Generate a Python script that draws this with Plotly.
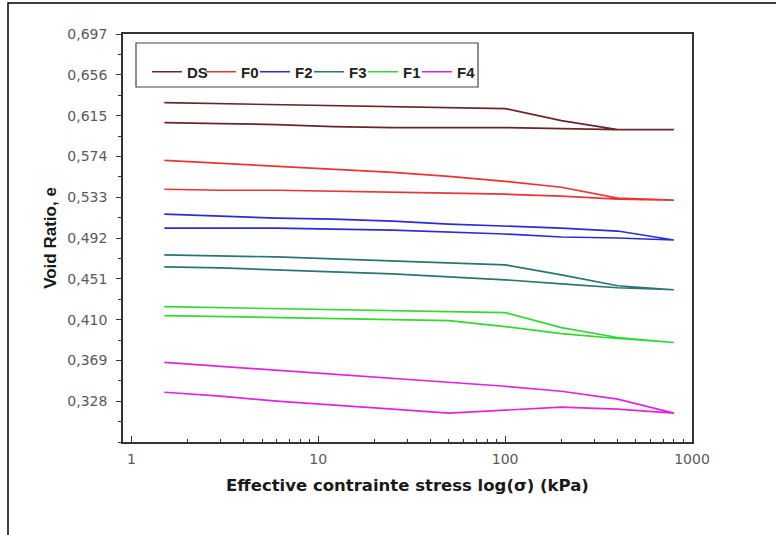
import plotly.graph_objects as go

# Stress steps (kPa)
stress = [1.5, 3, 6, 12, 25, 50, 100, 200, 400, 800]

series_names = ["DS", "F0", "F2", "F3", "F1", "F4"]

# Loading branch (upper) and unloading branch (lower), per series, indexed by stress
ds_load   = [0.628, 0.627, 0.626, 0.625, 0.624, 0.623, 0.622, 0.610, 0.601, 0.601]
ds_unload = [0.608, 0.607, 0.606, 0.604, 0.603, 0.603, 0.603, 0.602, 0.601, 0.601]
f0_load   = [0.570, 0.567, 0.564, 0.561, 0.558, 0.554, 0.549, 0.543, 0.532, 0.530]
f0_unload = [0.541, 0.540, 0.540, 0.539, 0.538, 0.537, 0.536, 0.534, 0.531, 0.530]
f2_load   = [0.516, 0.514, 0.512, 0.511, 0.509, 0.506, 0.504, 0.502, 0.499, 0.490]
f2_unload = [0.502, 0.502, 0.502, 0.501, 0.500, 0.498, 0.496, 0.493, 0.492, 0.490]
f3_load   = [0.475, 0.474, 0.473, 0.471, 0.469, 0.467, 0.465, 0.455, 0.444, 0.440]
f3_unload = [0.463, 0.462, 0.460, 0.458, 0.456, 0.453, 0.450, 0.446, 0.442, 0.440]
f1_load   = [0.423, 0.422, 0.421, 0.420, 0.419, 0.418, 0.417, 0.402, 0.392, 0.387]
f1_unload = [0.414, 0.413, 0.412, 0.411, 0.410, 0.409, 0.403, 0.396, 0.391, 0.387]
f4_load   = [0.367, 0.363, 0.359, 0.355, 0.351, 0.347, 0.343, 0.338, 0.330, 0.316]
f4_unload = [0.337, 0.333, 0.328, 0.324, 0.320, 0.316, 0.319, 0.322, 0.320, 0.316]

loads = [ds_load, f0_load, f2_load, f3_load, f1_load, f4_load]
unloads = [ds_unload, f0_unload, f2_unload, f3_unload, f1_unload, f4_unload]
colors = ["#6a2626", "#ec3434", "#2c2cd4", "#2a7474", "#33d833", "#e024e0"]

y_tickvals = [0.328, 0.369, 0.410, 0.451, 0.492, 0.533, 0.574, 0.615, 0.656, 0.697]
y_ticktext = ["0,328", "0,369", "0,410", "0,451", "0,492", "0,533", "0,574", "0,615", "0,656", "0,697"]
x_tickvals = [1, 10, 100, 1000]
x_ticktext = ["1", "10", "100", "1000"]
x_minor = [2, 3, 4, 5, 6, 7, 8, 9, 20, 30, 40, 50, 60, 70, 80, 90,
           200, 300, 400, 500, 600, 700, 800, 900]

fig = go.Figure()
for name, ld, ul, c in zip(series_names, loads, unloads, colors):
    fig.add_trace(go.Scatter(
        x=stress + stress[::-1],
        y=ld + ul[::-1],
        mode="lines", name=name,
        line=dict(color=c, width=1.7),
    ))
# invisible spacer entry so the last legend label is not clipped
fig.add_trace(go.Scatter(x=[None], y=[None], mode="lines", name=" ",
                         line=dict(color="rgba(0,0,0,0)", width=0), hoverinfo="skip"))

axis_font = dict(family="DejaVu Sans, sans-serif", size=14, color="#5a5a5a")

L, R, T, B = 123, 84, 34, 93
PW, PH = 776 - L - R, 535 - T - B

def px_x(x):
    return (x - L) / PW

def px_y(y):
    return 1 - (y - T) / PH

fig.update_layout(
    width=776, height=535,
    margin=dict(l=L, r=R, t=T, b=B),
    paper_bgcolor="white", plot_bgcolor="white",
    showlegend=True,
    legend=dict(
        orientation="h", x=px_x(147), y=px_y(72), xanchor="left", yanchor="middle",
        borderwidth=0, bgcolor="rgba(0,0,0,0)",
        font=dict(family="Arial, Liberation Sans, sans-serif", size=15, color="#222222", weight="bold"),
        entrywidth=9, itemwidth=30, tracegroupgap=0,
    ),
    xaxis=dict(
        type="log", range=[-0.045, 3.0],
        tickvals=x_tickvals, ticktext=x_ticktext,
        ticks="inside", ticklen=6, tickcolor="#333333",
        minor=dict(tickvals=x_minor, ticks="inside", ticklen=3, tickcolor="#333333"),
        showline=True, linecolor="#333333", linewidth=1.5, mirror=True,
        showgrid=False, zeroline=False,
        tickfont=axis_font, ticklabelstandoff=3,
        title=dict(text="<b>Effective contrainte stress log(σ) (kPa)</b>",
                   font=dict(family="DejaVu Sans, sans-serif", size=16.5, color="#1a1a1a"),
                   standoff=14),
    ),
    yaxis=dict(
        range=[0.287, 0.697],
        tickvals=y_tickvals, ticktext=y_ticktext,
        ticks="outside", ticklen=5, tickcolor="#333333",
        minor=dict(tick0=0.287, dtick=0.0205, ticks="outside", ticklen=3, tickcolor="#333333"),
        showline=True, linecolor="#333333", linewidth=1.5, mirror=True,
        showgrid=False, zeroline=False,
        tickfont=axis_font, ticklabelstandoff=6,
        title=dict(text="<b>Void Ratio, e</b>",
                   font=dict(family="Arial, Liberation Sans, sans-serif", size=17, color="#1a1a1a"),
                   standoff=6),
    ),
    shapes=[
        dict(type="rect", xref="paper", yref="paper",
             x0=px_x(8), x1=1.6, y0=-0.5, y1=px_y(3),
             line=dict(color="black", width=1.5), layer="below"),
        dict(type="rect", xref="paper", yref="paper",
             x0=px_x(136), x1=px_x(478), y0=px_y(87), y1=px_y(43),
             line=dict(color="#444444", width=1.2), fillcolor="rgba(0,0,0,0)", layer="above"),
    ],
)

fig.write_html("out.html", config={"displayModeBar": False},
               post_script="document.body.style.margin='0';document.body.style.overflow='hidden';")
